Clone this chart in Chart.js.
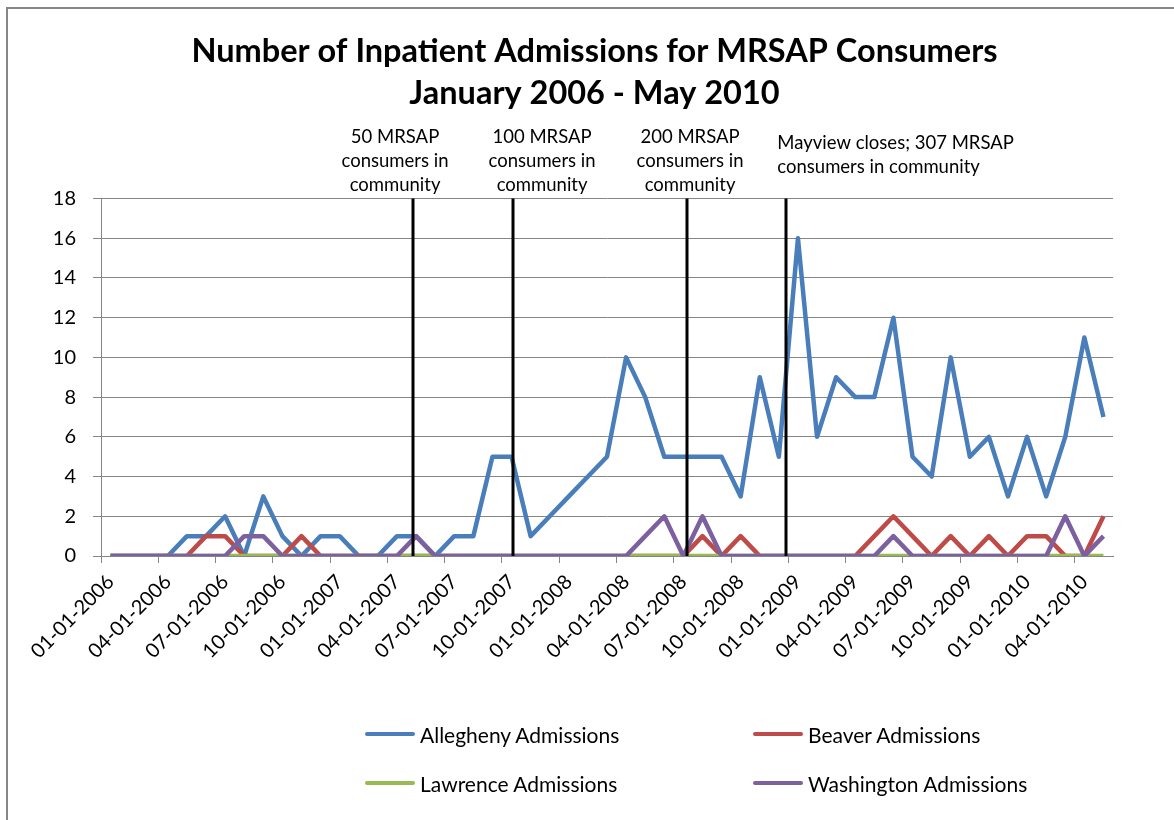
<!DOCTYPE html>
<html>
<head>
  <title>Inpatient Admissions for MRSAP Consumers</title>
  <script src="https://cdn.jsdelivr.net/npm/chart.js"></script>
  <style>
    body { margin: 0; background: #fff; font-family: Lato, "Open Sans", sans-serif; }
    #wrap { position: relative; width: 1174px; height: 820px; overflow: hidden; }
    #frame { position: absolute; left: 6px; top: 7px; width: 1200px; height: 840px;
             border-top: 2px solid #878787; border-left: 2px solid #878787; }
    #chart { position: absolute; left: 0; top: 0; }
    #legend { position: absolute; left: 365px; top: 718px; display: grid;
              grid-template-columns: 388px auto; row-gap: 17px; }
    .item { display: flex; align-items: center; height: 32px; font-size: 21px; color: #000; }
    .swatch { width: 50px; height: 4px; margin-right: 5px; border-radius: 2px; }
  </style>
</head>
<body>
  <div id="wrap">
    <div id="frame"></div>
    <canvas id="chart" width="1174" height="820"></canvas>
    <div id="legend"></div>
  </div>

  <script>
    // monthly categories, Jan 2006 .. May 2010
    const months = [];
    for (let y = 2006; y <= 2010; y++) {
      for (let m = 1; m <= 12; m++) {
        if (y === 2010 && m > 5) break;
        months.push(String(m).padStart(2, '0') + '-01-' + y);
      }
    }

    const allegheny = [0,0,0,0,1,1,2,0,3,1, 0,1,1,0,0,1,1,0,1,1, 5,5,1,2,3,4,5,10,8,5,
                       5,5,5,3,9,5,16,6,9,8, 8,12,5,4,10,5,6,3,6,3, 6,11,7];
    const beaver    = [0,0,0,0,0,1,1,0,0,0, 1,0,0,0,0,0,0,0,0,0, 0,0,0,0,0,0,0,0,0,0,
                       0,1,0,1,0,0,0,0,0,0, 1,2,1,0,1,0,1,0,1,1, 0,0,2];
    const lawrence  = [0,0,0,0,0,0,0,0,0,0, 0,0,0,0,0,0,0,0,0,0, 0,0,0,0,0,0,0,0,0,0,
                       0,0,0,0,0,0,0,0,0,0, 0,0,0,0,0,0,0,0,0,0, 0,0,0];
    const washington= [0,0,0,0,0,0,0,1,1,0, 0,0,0,0,0,0,1,0,0,0, 0,0,0,0,0,0,0,0,1,2,
                       0,2,0,0,0,0,0,0,0,0, 0,1,0,0,0,0,0,0,0,0, 2,0,1];

    const yMax = 18;
    const yStep = 2;

    // milestone lines, as position along the month axis (category index)
    const eventAt = [15.82, 21.09, 30.17, 35.38];
    const notes = [
      { at: 14.9,  lines: ['50 MRSAP', 'consumers in', 'community'] },
      { at: 22.6,  lines: ['100 MRSAP', 'consumers in', 'community'] },
      { at: 30.35, lines: ['200 MRSAP', 'consumers in', 'community'] },
      { at: 34.92, lines: ['Mayview closes; 307 MRSAP', 'consumers in community'] }
    ];
    const noteStyle = [
      { align: 'center', top: -61 },
      { align: 'center', top: -61 },
      { align: 'center', top: -61 },
      { align: 'left',   top: -55 }
    ];

    const GRID = '#868686';

    const milestones = {
      id: 'milestones',
      afterDatasetsDraw(chart) {
        const { ctx, chartArea, scales: { x, y } } = chart;
        ctx.save();
        ctx.strokeStyle = '#000';
        ctx.lineWidth = 3;
        eventAt.forEach(v => {
          const px = Math.round(x.getPixelForValue(v));
          ctx.beginPath();
          ctx.moveTo(px, y.getPixelForValue(yMax));
          ctx.lineTo(px, y.getPixelForValue(0));
          ctx.stroke();
        });
        ctx.fillStyle = '#000';
        ctx.font = '18.5px Lato';
        ctx.textBaseline = 'middle';
        notes.forEach((n, i) => {
          const st = noteStyle[i];
          ctx.textAlign = st.align;
          const px = x.getPixelForValue(n.at);
          n.lines.forEach((t, j) => {
            ctx.fillText(t, px, chartArea.top + st.top + j * 24);
          });
        });
        ctx.restore();
      }
    };

    const chart = new Chart(document.getElementById('chart'), {
      type: 'line',
      data: {
        labels: months,
        datasets: [
          { label: 'Allegheny Admissions', data: allegheny, borderColor: '#4A7EBB', order: 3 },
          { label: 'Beaver Admissions', data: beaver, borderColor: '#BE4B48', order: 2 },
          { label: 'Lawrence Admissions', data: lawrence, borderColor: '#98B954', order: 1 },
          { label: 'Washington Admissions', data: washington, borderColor: '#7D60A0', order: 0 }
        ]
      },
      options: {
        responsive: false,
        animation: false,
        layout: { padding: { left: 15, right: 0, top: 0, bottom: 0 } },
        elements: {
          line: { borderWidth: 4.5, tension: 0, borderJoinStyle: 'round', fill: false },
          point: { radius: 0 }
        },
        plugins: {
          legend: { display: false },
          tooltip: { enabled: false },
          title: {
            display: true,
            text: ['Number of Inpatient Admissions for MRSAP Consumers', 'January 2006 - May 2010'],
            color: '#000',
            font: { family: 'Lato', size: 32.5, weight: 'bold', lineHeight: 1.3 },
            padding: { top: 30, bottom: 84 }
          }
        },
        scales: {
          x: {
            offset: true,
            afterFit(s) { s.height = 264; },
            grid: {
              offset: true,
              drawOnChartArea: false,
              tickLength: 7,
              color: c => c.index % 3 === 0 ? GRID : 'rgba(0,0,0,0)'
            },
            border: { color: GRID },
            ticks: {
              autoSkip: false,
              minRotation: 45,
              maxRotation: 45,
              padding: 7,
              color: '#000',
              font: { family: 'Lato', size: 20 },
              callback: (v, i) => i % 3 === 0 ? months[i] : ''
            }
          },
          y: {
            min: 0,
            max: yMax,
            afterFit(s) { s.width = 86; },
            grid: { color: GRID, tickLength: 8 },
            border: { color: GRID },
            ticks: {
              stepSize: yStep,
              autoSkip: false,
              padding: 17,
              color: '#000',
              font: { family: 'Lato', size: 20 }
            }
          },
          // empty right-hand gutter so the plot ends where the reference does
          gutter: {
            position: 'right',
            afterFit(s) { s.width = 61; },
            grid: { display: false },
            border: { display: false },
            ticks: { display: false }
          }
        }
      },
      plugins: [milestones]
    });

    const legend = document.getElementById('legend');
    chart.data.datasets.forEach(ds => {
      const item = document.createElement('div');
      item.className = 'item';
      const sw = document.createElement('span');
      sw.className = 'swatch';
      sw.style.background = ds.borderColor;
      item.appendChild(sw);
      item.appendChild(document.createTextNode(ds.label));
      legend.appendChild(item);
    });
  </script>
</body>
</html>
